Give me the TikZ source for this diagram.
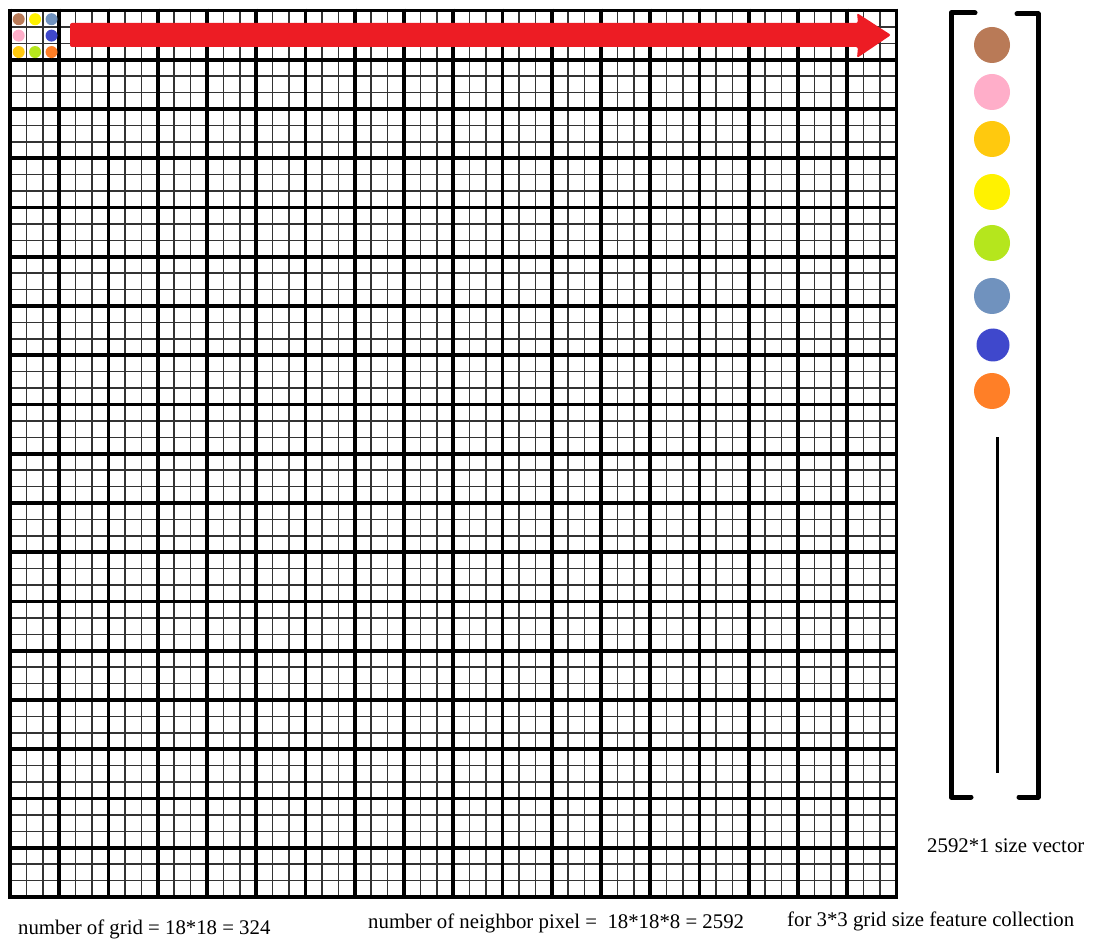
\documentclass[tikz,border=0pt]{standalone}
\usepackage{fontspec}
\setmainfont{Liberation Serif}
\definecolor{cbrown}{RGB}{185,122,87}
\definecolor{cpink}{RGB}{255,174,201}
\definecolor{cgold}{RGB}{255,201,14}
\definecolor{cyellow}{RGB}{255,242,0}
\definecolor{clime}{RGB}{181,230,29}
\definecolor{csteel}{RGB}{112,146,190}
\definecolor{cindigo}{RGB}{63,72,204}
\definecolor{corange}{RGB}{255,127,39}
\definecolor{cred}{RGB}{237,28,36}
\tikzset{
  thinline/.style={line width=1.5pt, draw=black!80},
  thickline/.style={line width=3.8pt, draw=black},
  bracket/.style={line width=5pt, line cap=round, line join=round},
  lbl/.style={font=\fontsize{20.8}{25}\selectfont, inner sep=0pt, anchor=west},
}
\begin{document}
\begin{tikzpicture}[x=1pt,y=-1pt]
\useasboundingbox (0,0) rectangle (1093,941);
\fill[white] (0,0) rectangle (1093,941);
% grid
\def\gx{10}\def\gy{10.5}\def\gs{886.5}
\foreach \i in {0,...,54}{
  \pgfmathsetmacro\p{\gs/54*\i}
  \draw[thinline] (\gx+\p,\gy) -- (\gx+\p,\gy+\gs);
  \draw[thinline] (\gx,\gy+\p) -- (\gx+\gs,\gy+\p);
}
\foreach \i in {0,...,18}{
  \pgfmathsetmacro\p{\gs/18*\i}
  \draw[thickline] (\gx+\p,\gy-1.9) -- (\gx+\p,\gy+\gs+1.9);
  \draw[thickline] (\gx-1.9,\gy+\p) -- (\gx+\gs+1.9,\gy+\p);
}
% dots in first cell
\def\sc{16.42}
\foreach \c/\col/\row in {cbrown/0/0, cyellow/1/0, csteel/2/0, cpink/0/1, cindigo/2/1, cgold/0/2, clime/1/2, corange/2/2}{
  \fill[\c] (\gx+\sc/2+\col*\sc+0.5, \gy+\sc/2+\row*\sc+0.5) circle (6);
}
% red arrow
\fill[cred, rounded corners=2pt] (70,23) -- (858,23) -- (857,13) -- (891,35) -- (857,58) -- (858,47) -- (70,47) -- cycle;
% vector brackets
\draw[bracket] (975,13) -- (951,13) -- (951,797) -- (971,797);
\draw[bracket] (1017,14) -- (1038,14) -- (1038,797) -- (1019,797);
\foreach \c/\yy in {cbrown/45, cpink/92, cgold/139, cyellow/192, clime/243, csteel/296, corange/391}{
  \fill[\c] (992,\yy) circle (18);
}
\fill[cindigo] (993,345) circle (16.5);
\draw[line width=3pt] (997,437) -- (997,773);
% labels
\node[lbl] (vec) at (927,846) {2592*1 size vector};
\node[lbl] (ng) at (18,929) {number of grid = 18*18 = 324};
\node[lbl] (np) at (368,923) {number of neighbor pixel =\ \ 18*18*8 = 2592};
\node[lbl] (fc) at (787,921) {for 3*3 grid size feature collection};
\end{tikzpicture}
\end{document}
